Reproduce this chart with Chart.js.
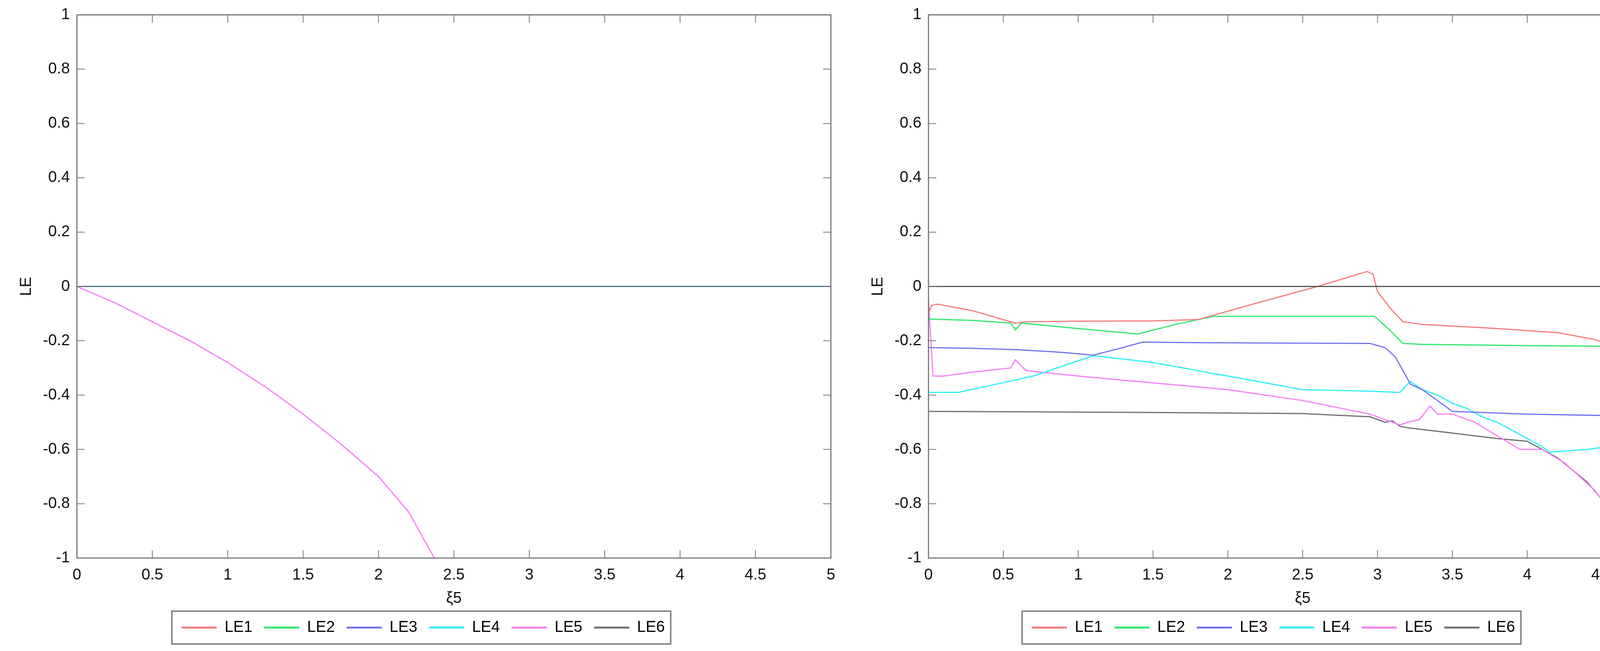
<!DOCTYPE html>
<html><head><meta charset="utf-8">
<script src="https://cdn.jsdelivr.net/npm/chart.js@4"></script>
<style>
body{margin:0;background:#fff;width:4316px;height:1667px;overflow:hidden}
canvas{position:absolute;top:0}
</style></head><body>
<canvas id="cL" width="2200" height="1667" style="left:0;width:2200px;height:1667px"></canvas>
<canvas id="cR" width="2116" height="1667" style="left:2200px;width:2116px;height:1667px"></canvas>
<script>
const xTicks=[0,0.5,1,1.5,2,2.5,3,3.5,4,4.5,5];
const yTicks=[-1,-0.8,-0.6,-0.4,-0.2,0,0.2,0.4,0.6,0.8,1];
const names=['LE1','LE2','LE3','LE4','LE5','LE6'];
const colors=['#f77b7b','#2ee86a','#7272f2','#2af0f4','#f77ef7','#6e6e6e'];

// left panel
const leftZeroX=[0,5], leftZeroY=[0,0];
const leftLE5x=[0,0.25,0.5,0.75,1,1.25,1.5,1.75,2,2.2,2.37,2.45];
const leftLE5y=[0,-0.06,-0.13,-0.2,-0.28,-0.37,-0.47,-0.58,-0.7,-0.83,-1,-1.07];

// right panel
const zeroX=[0,5], zeroY=[0,0];
const r1x=[0,0.02,0.06,0.3,0.58,0.65,1.0,1.5,1.8,2.2,2.6,2.93,2.97,3.0,3.1,3.17,3.3,3.8,4.2,4.45,4.55,4.6,4.7,5];
const r1y=[-0.1,-0.07,-0.065,-0.09,-0.135,-0.13,-0.128,-0.127,-0.122,-0.06,0.0,0.055,0.045,-0.02,-0.09,-0.13,-0.14,-0.155,-0.17,-0.195,-0.215,-0.195,-0.185,-0.178];
const r2x=[0,0.3,0.55,0.58,0.62,1.0,1.4,1.65,1.9,2.5,2.98,3.08,3.17,3.3,4.0,4.5,4.55,4.58,4.65,5];
const r2y=[-0.12,-0.125,-0.135,-0.16,-0.135,-0.155,-0.175,-0.14,-0.11,-0.11,-0.11,-0.16,-0.21,-0.213,-0.218,-0.22,-0.25,-0.225,-0.225,-0.225];
const r3x=[0,0.3,0.6,0.9,1.1,1.3,1.43,1.8,2.5,2.95,3.05,3.12,3.18,3.22,3.3,3.4,3.5,4.0,4.5,4.54,4.56,4.65,4.72,4.77,4.82,4.9,5];
const r3y=[-0.225,-0.228,-0.233,-0.243,-0.253,-0.225,-0.205,-0.207,-0.209,-0.21,-0.225,-0.26,-0.32,-0.36,-0.38,-0.42,-0.46,-0.47,-0.475,-0.445,-0.43,-0.47,-0.5,-0.53,-0.505,-0.5,-0.5];
const r4x=[0,0.2,0.45,0.7,1.1,1.5,2.0,2.5,2.9,3.15,3.2,3.22,3.3,3.4,3.5,3.6,3.7,3.8,3.9,4.0,4.1,4.15,4.4,4.6,4.72,4.77,4.82,4.9,5];
const r4y=[-0.39,-0.39,-0.36,-0.33,-0.255,-0.28,-0.33,-0.38,-0.385,-0.39,-0.36,-0.35,-0.38,-0.4,-0.43,-0.45,-0.48,-0.5,-0.53,-0.56,-0.59,-0.61,-0.6,-0.585,-0.57,-0.54,-0.58,-0.59,-0.6];
const r5x=[0,0.03,0.1,0.3,0.55,0.58,0.65,1.0,1.4,2.0,2.5,2.95,3.1,3.15,3.2,3.28,3.35,3.4,3.5,3.65,3.8,3.95,4.1,4.25,4.45,4.6,4.77,4.82,4.9,5];
const r5y=[-0.05,-0.33,-0.33,-0.315,-0.3,-0.27,-0.31,-0.33,-0.35,-0.38,-0.42,-0.47,-0.5,-0.51,-0.5,-0.49,-0.44,-0.47,-0.47,-0.5,-0.55,-0.6,-0.6,-0.65,-0.75,-0.86,-1.0,-1.08,-1.0,-0.7];
const r6x=[0,0.5,1.5,2.5,2.95,3.05,3.1,3.15,3.2,3.5,3.8,4.0,4.2,4.4,4.6,4.75,4.8];
const r6y=[-0.46,-0.461,-0.464,-0.468,-0.48,-0.5,-0.495,-0.515,-0.52,-0.54,-0.56,-0.57,-0.63,-0.72,-0.85,-1.0,-1.05];

const pts=(xs,ys)=>xs.map((x,i)=>({x,y:ys[i]}));

const leftSets=[
  {label:'zero',data:pts(leftZeroX,leftZeroY),borderColor:'#3e7383'},
  ...names.map((n,i)=>({label:n,data:i===4?pts(leftLE5x,leftLE5y):[],borderColor:colors[i]}))
];
const rightData=[pts(r1x,r1y),pts(r2x,r2y),pts(r3x,r3y),pts(r4x,r4y),pts(r5x,r5y),pts(r6x,r6y)];
const rightSets=[
  {label:'zero',data:pts(zeroX,zeroY),borderColor:'#555'},
  ...names.map((n,i)=>({label:n,data:rightData[i],borderColor:colors[i]}))
];

const frame={
  id:'frame',
  afterDraw(c){
    const ctx=c.ctx,a=c.chartArea,xs=c.scales.x,ys=c.scales.y;
    ctx.save();ctx.strokeStyle='#777';ctx.lineWidth=3;
    ctx.strokeRect(a.left,a.top,a.right-a.left,a.bottom-a.top);
    ctx.lineWidth=2;ctx.beginPath();
    xTicks.forEach(v=>{const p=xs.getPixelForValue(v);ctx.moveTo(p,a.bottom);ctx.lineTo(p,a.bottom-20);ctx.moveTo(p,a.top);ctx.lineTo(p,a.top+20);});
    yTicks.forEach(v=>{const p=ys.getPixelForValue(v);ctx.moveTo(a.left,p);ctx.lineTo(a.left+20,p);ctx.moveTo(a.right,p);ctx.lineTo(a.right-20,p);});
    ctx.stroke();
    const hb=c.legend.legendHitBoxes;
    if(hb&&hb.length){
      const x0=Math.min(...hb.map(b=>b.left))-25, x1=Math.max(...hb.map(b=>b.left+b.width))+15;
      const y0=Math.min(...hb.map(b=>b.top))-22, y1=Math.max(...hb.map(b=>b.top+b.height))+22;
      ctx.lineWidth=4;ctx.strokeStyle='#888';ctx.strokeRect(x0,y0,x1-x0,y1-y0);
    }
    ctx.restore();
  }
};

function make(id,sets,padL,padR){
  return new Chart(document.getElementById(id),{
    type:'line',
    data:{datasets:sets.map(s=>({...s,borderWidth:3,pointRadius:0,tension:0,fill:false}))},
    options:{
      responsive:false,animation:false,devicePixelRatio:1,
      layout:{padding:{top:38,right:padR,left:padL,bottom:30}},
      scales:{
        x:{type:'linear',min:0,max:5,
          afterBuildTicks:s=>{s.ticks=xTicks.map(v=>({value:v}));},
          grid:{display:false},border:{display:false},
          ticks:{color:'#111',font:{family:'Liberation Sans',size:40},padding:12,maxRotation:0,callback:v=>String(v)},
          title:{display:true,text:'ξ5',color:'#111',font:{family:'Liberation Sans',size:40},padding:{top:0,bottom:0}}},
        y:{min:-1,max:1,
          afterBuildTicks:s=>{s.ticks=yTicks.map(v=>({value:v}));},
          grid:{display:false},border:{display:false},
          ticks:{color:'#111',font:{family:'Liberation Sans',size:40},padding:10,callback:v=>String(v)},
          title:{display:true,text:'LE',color:'#111',font:{family:'Liberation Sans',size:40},padding:{bottom:8}}}
      },
      plugins:{
        legend:{position:'bottom',
          labels:{filter:it=>it.text!=='zero',boxWidth:90,boxHeight:0,color:'#111',padding:30,
            font:{family:'Liberation Sans',size:40},
            generateLabels:c=>c.data.datasets.map((d,i)=>({text:d.label,strokeStyle:d.borderColor,fillStyle:d.borderColor,lineWidth:5,datasetIndex:i}))}},
        tooltip:{enabled:false}
      }
    },
    plugins:[frame]
  });
}
make('cL',leftSets,40,73);
make('cR',rightSets,20,16);
</script></body></html>
